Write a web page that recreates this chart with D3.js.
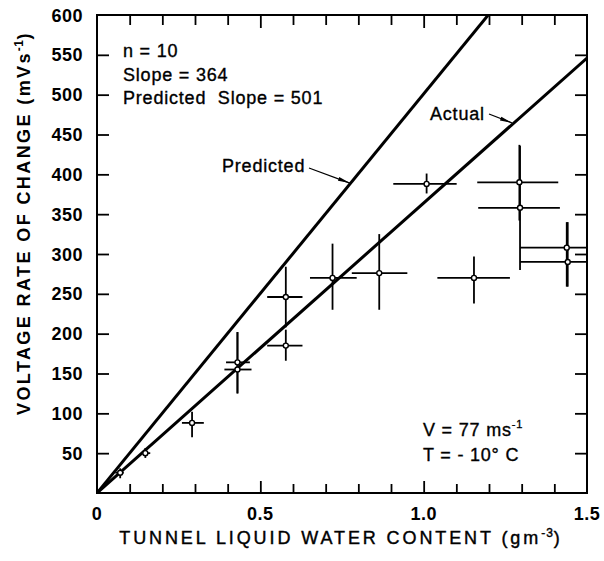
<!DOCTYPE html>
<html><head><meta charset="utf-8">
<script src="https://cdn.jsdelivr.net/npm/d3@7"></script>
<style>
html,body{margin:0;padding:0;background:#fff;}
svg{display:block;}
text{font-family:"Liberation Sans",Arial,sans-serif;fill:#000;}
</style></head>
<body>
<svg id="chart" width="604" height="561"></svg>
<script>
// ---- data ----
const pointX   = [0.071, 0.148, 0.291, 0.430, 0.430, 0.578, 0.578, 0.721, 0.864, 1.009, 1.154, 1.293, 1.295, 1.438, 1.441];
const pointY   = [25.5, 50, 88, 164, 155, 246, 185, 270, 276, 388, 270, 390, 358, 308, 290];
const xErrLo   = [0.056, 0.138, 0.260, 0.395, 0.390, 0.521, 0.521, 0.652, 0.780, 0.907, 1.042, 1.164, 1.167, 1.295, 1.295];
const xErrHi   = [0.082, 0.163, 0.327, 0.468, 0.473, 0.629, 0.629, 0.795, 0.950, 1.101, 1.264, 1.412, 1.417, 1.500, 1.500];
const yErrLo   = [18.5, 44, 70, 125, 125, 208, 166, 230, 230, 376, 238, 342, 280, 259, 259];
const yErrHi   = [31, 56.5, 102, 202, 202, 284, 205, 313, 325, 401, 297, 437, 436, 340, 340];
const lineNames  = ["Predicted", "Actual"];
const lineSlopes = [501, 364];
const xTickValues = [0.1,0.2,0.3,0.4,0.5,0.6,0.7,0.8,0.9,1.0,1.1,1.2,1.3,1.4];
const xTickLabels = ["0", "0.5", "1.0", "1.5"];
const xLabelValues = [0, 0.5, 1.0, 1.5];
const yTickLabels = [50,100,150,200,250,300,350,400,450,500,550,600];
const infoLines = ["n = 10", "Slope = 364", "Predicted\u00A0 Slope = 501"];
const condLines = ["V = 77 ms", "T = - 10° C"];

// ---- layout ----
const svg = d3.select("#chart");
const L = 97, R = 587, T = 15, B = 493;
const x = d3.scaleLinear().domain([0, 1.5]).range([L, R]);
const y = d3.scaleLinear().domain([0, 600]).range([B, T]);

svg.append("rect").attr("width",604).attr("height",561).attr("fill","#fff");

const defs = svg.append("defs");
defs.append("clipPath").attr("id","plotclip").append("rect")
  .attr("x",L).attr("y",T).attr("width",R-L).attr("height",B-T);
defs.append("marker").attr("id","arrow").attr("viewBox","0 0 12 6")
  .attr("refX",12).attr("refY",3).attr("markerWidth",12).attr("markerHeight",6)
  .attr("markerUnits","userSpaceOnUse").attr("orient","auto")
  .append("path").attr("d","M0,1 L12,3 L0,5 Z").attr("fill","#000");

// ---- axes (ticks inward) ----
const tickStroke = 1.8;
function styleAxis(g){
  g.select(".domain").remove();
  g.selectAll("line").attr("stroke","#000").attr("stroke-width",tickStroke);
  g.selectAll("text").remove();
}
svg.append("g").attr("transform",`translate(0,${B})`)
  .call(d3.axisBottom(x).tickValues(xTickValues).tickSizeInner(-9).tickSizeOuter(0))
  .call(styleAxis)
  .selectAll(".tick line").attr("y2", d => (Math.abs(d-0.5)<1e-6||Math.abs(d-1)<1e-6) ? -12 : -9);
svg.append("g").attr("transform",`translate(0,${T})`)
  .call(d3.axisTop(x).tickValues(xTickValues).tickSizeInner(-10).tickSizeOuter(0))
  .call(styleAxis)
  .selectAll(".tick line").attr("y2", d => (Math.abs(d-0.5)<1e-6||Math.abs(d-1)<1e-6) ? 13 : 10);
svg.append("g").attr("transform",`translate(${L},0)`)
  .call(d3.axisLeft(y).tickValues(yTickLabels.filter(v=>v<600)).tickSizeInner(-12).tickSizeOuter(0))
  .call(styleAxis);
svg.append("g").attr("transform",`translate(${R},0)`)
  .call(d3.axisRight(y).tickValues(yTickLabels.filter(v=>v<600)).tickSizeInner(-12).tickSizeOuter(0))
  .call(styleAxis);

svg.append("rect").attr("x",L).attr("y",T).attr("width",R-L).attr("height",B-T)
  .attr("fill","none").attr("stroke","#000").attr("stroke-width",2);

// tick labels
svg.append("g").selectAll("text").data(yTickLabels).join("text")
  .attr("x", L-14).attr("y", d => y(d)+6.5).attr("text-anchor","end")
  .attr("font-size",18).attr("font-weight","bold").attr("letter-spacing",0.5)
  .text(d => d);
svg.append("g").selectAll("text").data(xLabelValues).join("text")
  .attr("x", d => x(d)).attr("y", B+27).attr("text-anchor","middle")
  .attr("font-size",18).attr("font-weight","bold").attr("letter-spacing",0.5)
  .text((d,i) => xTickLabels[i]);

// axis titles
const xt = svg.append("text").attr("x", 341).attr("y", 544).attr("text-anchor","middle")
  .attr("font-size",18).attr("letter-spacing",2.9).attr("stroke","#000").attr("stroke-width",0.4);
xt.append("tspan").text("TUNNEL LIQUID WATER CONTENT (gm");
xt.append("tspan").attr("font-size",12).attr("dy",-7).attr("letter-spacing",1).text("-3");
xt.append("tspan").attr("dy",7).text(")");

const yt = svg.append("text").attr("transform",`translate(30,${223}) rotate(-90)`).attr("text-anchor","middle")
  .attr("font-size",18).attr("font-weight","bold").attr("letter-spacing",2.4);
yt.append("tspan").text("VOLTAGE RATE OF CHANGE (mVs");
yt.append("tspan").attr("font-size",12).attr("dy",-7).attr("letter-spacing",0.5).text("-1");
yt.append("tspan").attr("dy",7).text(")");

// ---- regression lines ----
const plot = svg.append("g").attr("clip-path","url(#plotclip)");
plot.selectAll("line.fit").data(lineSlopes).join("line").attr("class","fit")
  .attr("x1", x(0)).attr("y1", y(0))
  .attr("x2", x(1.5)).attr("y2", d => y(1.5*d))
  .attr("stroke","#000").attr("stroke-width",3);

// ---- error bars and points ----
const idx = d3.range(pointX.length);
const eg = plot.append("g").attr("stroke","#000").attr("stroke-width",1.8);
eg.selectAll("line.h").data(idx).join("line").attr("class","h")
  .attr("x1", i => x(xErrLo[i])).attr("x2", i => x(xErrHi[i]))
  .attr("y1", i => y(pointY[i])).attr("y2", i => y(pointY[i]));
eg.selectAll("line.v").data(idx).join("line").attr("class","v")
  .attr("x1", i => x(pointX[i])).attr("x2", i => x(pointX[i]))
  .attr("y1", i => y(yErrLo[i])).attr("y2", i => y(yErrHi[i]));
plot.append("g").selectAll("circle").data(idx).join("circle")
  .attr("cx", i => x(pointX[i])).attr("cy", i => y(pointY[i])).attr("r",2.5)
  .attr("fill","#fff").attr("stroke","#000").attr("stroke-width",1.4);

// ---- annotations ----
const annoSize = 18, annoSpacing = 0.8;
function anno(sel){
  return sel.attr("font-size",annoSize).attr("letter-spacing",annoSpacing)
    .attr("stroke","#000").attr("stroke-width",0.35);
}
svg.append("g").selectAll("text").data(infoLines).join("text")
  .attr("x",123).attr("y",(d,i)=>57+i*23.5)
  .call(anno).text(d=>d);

const predX = 0.774, actX = 1.273;
svg.append("text").attr("x",222).attr("y",172).call(anno).text(lineNames[0]);
svg.append("line").attr("x1",309).attr("y1",168).attr("x2",x(predX)).attr("y2",y(lineSlopes[0]*predX)-1)
  .attr("stroke","#000").attr("stroke-width",1.3).attr("marker-end","url(#arrow)");
svg.append("text").attr("x",430).attr("y",120).call(anno).text(lineNames[1]);
svg.append("line").attr("x1",489).attr("y1",114).attr("x2",x(actX)-1).attr("y2",y(lineSlopes[1]*actX)-1)
  .attr("stroke","#000").attr("stroke-width",1.3).attr("marker-end","url(#arrow)");

const c1 = svg.append("text").attr("x",423).attr("y",436).call(anno);
c1.append("tspan").text(condLines[0]);
c1.append("tspan").attr("font-size",11).attr("dy",-8).text("-1");
svg.append("text").attr("x",423).attr("y",461).call(anno).text(condLines[1]);
</script>
</body></html>
